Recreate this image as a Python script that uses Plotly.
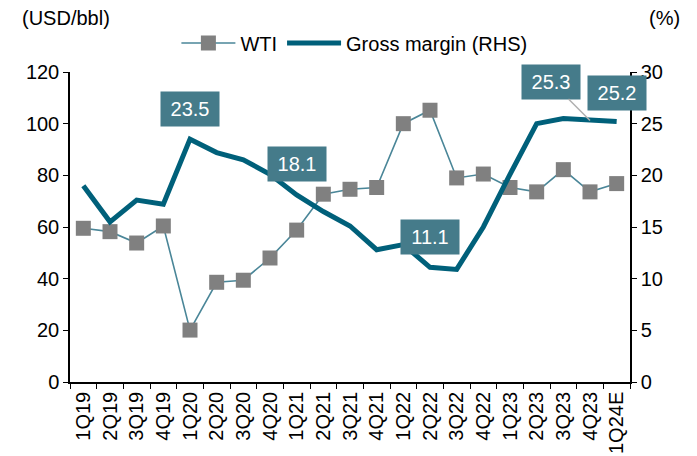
import plotly.graph_objects as go

quarters = ["1Q19", "2Q19", "3Q19", "4Q19", "1Q20", "2Q20", "3Q20", "4Q20",
            "1Q21", "2Q21", "3Q21", "4Q21", "1Q22", "2Q22", "3Q22", "4Q22",
            "1Q23", "2Q23", "3Q23", "4Q23", "1Q24E"]
wti = [59.5, 58.2, 53.8, 60.4, 20.1, 38.6, 39.4, 48.0,
       58.8, 72.7, 74.6, 75.3, 100.0, 105.2, 79.0, 80.5,
       75.3, 73.6, 82.2, 73.6, 76.8]
gross_margin = [19.0, 15.5, 17.6, 17.2, 23.5, 22.2, 21.5, 20.1,
                18.1, 16.5, 15.1, 12.8, 13.3, 11.1, 10.9, 15.0,
                20.1, 25.0, 25.5, 25.3, 25.2]
labels = [("1Q20", 23.5, 0, -30, False),
          ("1Q21", 18.1, 0, -31, False),
          ("2Q22", 11.1, 0, -30, False),
          ("4Q23", 25.3, -39, -39, True),
          ("1Q24E", 25.2, 0, -29, False)]

FONT = "Liberation Sans, Arial, sans-serif"
BOX = "#457B8A"
FS = 20

fig = go.Figure()
fig.add_trace(go.Scatter(
    x=quarters, y=wti, name="WTI", mode="lines+markers",
    line=dict(color="#4A8698", width=1.6),
    marker=dict(symbol="square", size=15, color="#808080"),
))
fig.add_trace(go.Scatter(
    x=quarters, y=gross_margin, name="Gross margin (RHS)", mode="lines",
    line=dict(color="#00607A", width=5), yaxis="y2",
))

for q, v, ax, ay, arrow in labels:
    fig.add_annotation(
        x=q, y=v, xref="x", yref="y2", text=f"{v:.1f}",
        showarrow=True, ax=ax, ay=ay, axref="pixel", ayref="pixel",
        arrowhead=0, arrowwidth=1.5,
        arrowcolor="#B0B0B0" if arrow else "rgba(0,0,0,0)",
        bgcolor=BOX, font=dict(color="white", size=FS, family=FONT),
        width=56, height=32, borderpad=1,
    )

fig.add_annotation(text="(USD/bbl)", xref="paper", yref="paper", x=-0.09, y=1.175,
                   xanchor="left", yanchor="middle", showarrow=False,
                   font=dict(size=FS, family=FONT, color="black"))
fig.add_annotation(text="(%)", xref="paper", yref="paper", x=1.03, y=1.175,
                   xanchor="left", yanchor="middle", showarrow=False,
                   font=dict(size=FS, family=FONT, color="black"))

fig.update_layout(
    width=697, height=456,
    margin=dict(l=70, r=67, t=72, b=74),
    paper_bgcolor="white", plot_bgcolor="white",
    font=dict(family=FONT, size=FS, color="black"),
    showlegend=True,
    legend=dict(orientation="h", x=0.19, y=1 + (72 - 43) / 310,
                xanchor="left", yanchor="middle",
                font=dict(size=FS), itemwidth=54,
                bgcolor="rgba(0,0,0,0)"),
    xaxis=dict(type="category", tickangle=-90, showline=True, linecolor="black",
               linewidth=1.5, ticks="outside", ticklen=5, tickcolor="black",
               tickson="boundaries", showgrid=False, tickfont=dict(size=FS),
               automargin=False, range=[-0.5, len(quarters) - 0.5]),
    yaxis=dict(range=[0, 120], dtick=20, showline=True, linecolor="black",
               linewidth=1.5, ticks="outside", ticklen=5, tickcolor="black",
               showgrid=False, zeroline=False, tickfont=dict(size=FS),
               automargin=False),
    yaxis2=dict(range=[0, 30], dtick=5, overlaying="y", side="right",
                showline=True, linecolor="black", linewidth=1.5, ticks="outside",
                ticklen=5, tickcolor="black", showgrid=False, zeroline=False,
                tickfont=dict(size=FS), automargin=False),
)

fig.write_html("out.html")
